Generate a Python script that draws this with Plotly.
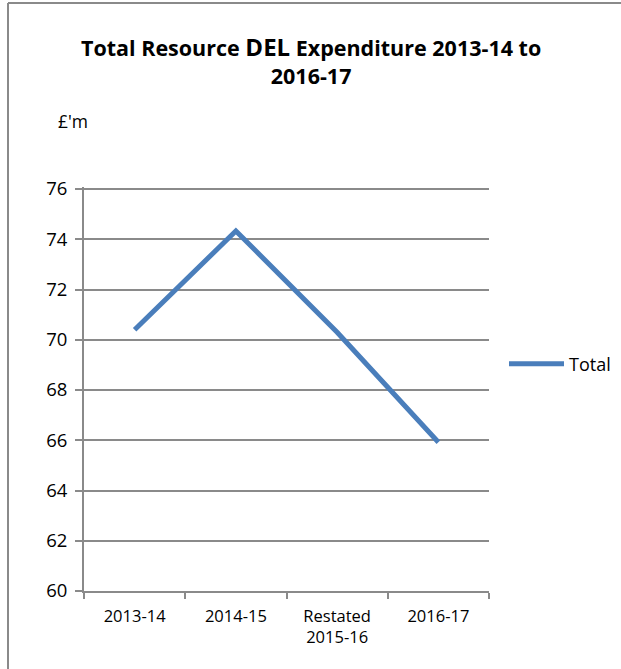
import plotly.graph_objects as go

categories = ["2013-14", "2014-15", "Restated<br>2015-16", "2016-17"]
values = [70.4, 74.33, 70.3, 65.92]
series_name = "Total"
y_ticks = [60, 62, 64, 66, 68, 70, 72, 74, 76]

W, H = 621, 669
L, R, T, B = 84, 132, 187, 78
pw, ph = W - L - R, H - T - B
# keep the top gridline (76) 2px inside the plot area so it is drawn
y_top = (76 - 60 * 2 / ph) / (1 - 2 / ph)

def px(x):
    return (x - L) / pw

def py(y):
    return (H - B - y) / ph

FONT = "Open Sans"
GRID = "#8a8a8a"

fig = go.Figure()
fig.add_trace(go.Scatter(
    x=categories, y=values, mode="lines", name=series_name,
    line=dict(color="#4A7EBB", width=5),
))

fig.update_layout(
    width=W, height=H,
    margin=dict(l=L, r=R, t=T, b=B, autoexpand=False),
    paper_bgcolor="white", plot_bgcolor="white",
    font=dict(family=FONT, color="#000000"),
    showlegend=True,
    legend=dict(xref="container", yref="container",
                x=504 / W, y=1 - 364 / H, xanchor="left", yanchor="middle",
                font=dict(size=18, family=FONT), itemwidth=55,
                bgcolor="rgba(0,0,0,0)"),
    xaxis=dict(
        type="category", range=[-0.5, 3.5],
        showgrid=False, showline=True, linecolor=GRID, linewidth=2,
        ticks="outside", tickson="boundaries", ticklen=6, tickcolor=GRID, tickwidth=2,
        tickfont=dict(size=16.5, family=FONT), ticklabelstandoff=9, fixedrange=True,
    ),
    yaxis=dict(
        range=[60, y_top], tickvals=y_ticks,
        showgrid=True, gridcolor=GRID, gridwidth=2,
        showline=True, linecolor=GRID, linewidth=2,
        ticks="outside", ticklen=7, tickcolor=GRID, tickwidth=2,
        ticksuffix="\u00a0\u00a0\u00a0",
        tickfont=dict(size=18.5, family=FONT), ticklabelstandoff=4, zeroline=False,
    ),
    shapes=[
        dict(type="line", xref="paper", yref="paper",
             x0=px(8), x1=px(8), y0=py(3), y1=py(H),
             line=dict(color="#8a8a8a", width=2)),
        dict(type="line", xref="paper", yref="paper",
             x0=px(8), x1=px(W), y0=py(3), y1=py(3),
             line=dict(color="#8a8a8a", width=2)),
    ],
    annotations=[
        dict(text="<b>Total Resource <span style='font-size:24px'>DEL</span> Expenditure 2013-14 to</b><br><b>2016-17</b>",
             xref="paper", yref="paper", x=px(311), y=py(60), xanchor="center", yanchor="middle",
             showarrow=False, font=dict(size=21.5, family=FONT)),
        dict(text="£'m", xref="paper", yref="paper", x=px(56), y=py(121),
             xanchor="left", yanchor="middle", showarrow=False,
             font=dict(size=17.5, family=FONT)),
    ],
)

fig.write_html("out.html", config={"displayModeBar": False})
